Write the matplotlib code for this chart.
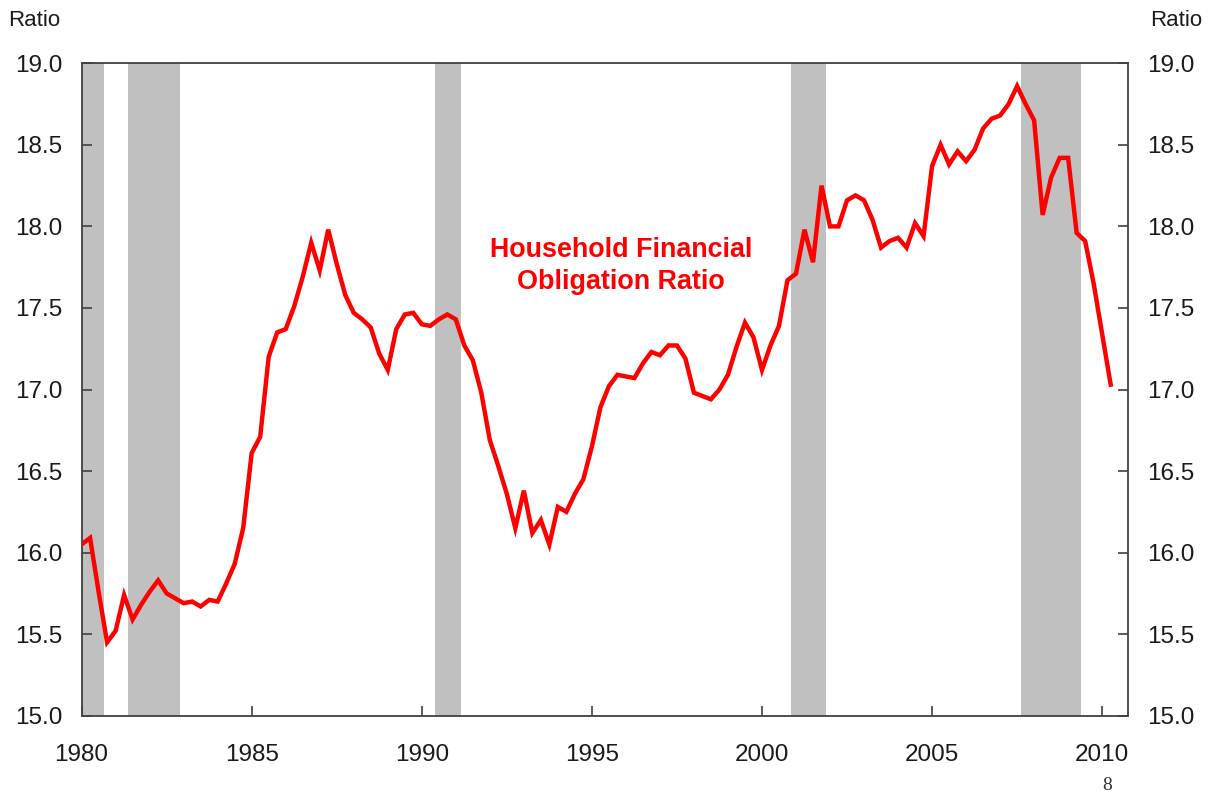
import matplotlib
matplotlib.use("Agg")
import matplotlib.pyplot as plt
import numpy as np

plt.rcParams['font.family'] = ['Liberation Sans', 'DejaVu Sans']

# Quarterly household financial obligation ratio, 1980Q1 - 2010Q2
start_year = 1980
ratio = [
    16.05, 16.09, 15.76, 15.45,   # 1980
    15.52, 15.74, 15.59, 15.68,   # 1981
    15.76, 15.83, 15.75, 15.72,   # 1982
    15.69, 15.70, 15.67, 15.71,   # 1983
    15.70, 15.81, 15.93, 16.15,   # 1984
    16.61, 16.71, 17.20, 17.35,   # 1985
    17.37, 17.51, 17.69, 17.90,   # 1986
    17.73, 17.98, 17.77, 17.58,   # 1987
    17.47, 17.43, 17.38, 17.22,   # 1988
    17.12, 17.37, 17.46, 17.47,   # 1989
    17.40, 17.39, 17.43, 17.46,   # 1990
    17.43, 17.27, 17.18, 16.98,   # 1991
    16.69, 16.53, 16.36, 16.15,   # 1992
    16.38, 16.12, 16.20, 16.05,   # 1993
    16.28, 16.25, 16.36, 16.45,   # 1994
    16.65, 16.89, 17.02, 17.09,   # 1995
    17.08, 17.07, 17.16, 17.23,   # 1996
    17.21, 17.27, 17.27, 17.19,   # 1997
    16.98, 16.96, 16.94, 17.00,   # 1998
    17.09, 17.26, 17.41, 17.32,   # 1999
    17.12, 17.27, 17.39, 17.67,   # 2000
    17.71, 17.98, 17.78, 18.25,   # 2001
    18.00, 18.00, 18.16, 18.19,   # 2002
    18.16, 18.04, 17.87, 17.91,   # 2003
    17.93, 17.87, 18.02, 17.94,   # 2004
    18.37, 18.50, 18.38, 18.46,   # 2005
    18.40, 18.47, 18.60, 18.66,   # 2006
    18.68, 18.75, 18.86, 18.75,   # 2007
    18.65, 18.07, 18.30, 18.42,   # 2008
    18.42, 17.96, 17.91, 17.65,   # 2009
    17.34, 17.03,                 # 2010
]

# Recession shading (start, end) in fractional years
recession_start = [1980.0, 1981.35, 1990.39, 2000.85, 2007.60]
recession_end = [1980.66, 1982.90, 1991.15, 2001.88, 2009.38]

x_ticks = [1980, 1985, 1990, 1995, 2000, 2005, 2010]
y_ticks = [15.0, 15.5, 16.0, 16.5, 17.0, 17.5, 18.0, 18.5, 19.0]

dates = start_year + np.arange(len(ratio)) / 4.0

fig = plt.figure(figsize=(12.14, 7.98), dpi=100)
ax = fig.add_axes([0.0672, 0.1031, 0.9289 - 0.0672, 0.9207 - 0.1031])

for s, e in zip(recession_start, recession_end):
    ax.axvspan(s, e, color='#C0C0C0', lw=0, zorder=1)

ax.plot(dates, ratio, color='#FF0000', lw=3.2, zorder=3, solid_joinstyle='miter')

ax.set_xlim(1980.0, 2010.75)
ax.set_ylim(15.0, 19.0)
ax.set_xticks(x_ticks)
ax.set_xticklabels([str(t) for t in x_ticks])
ax.set_yticks(y_ticks)
ax.set_yticklabels([f"{v:.1f}" for v in y_ticks])

for sp in ax.spines.values():
    sp.set_color('#404040')
    sp.set_linewidth(1.3)

ax.tick_params(axis='y', direction='in', length=7, width=1.2, color='#404040',
               left=True, right=True, labelleft=True, labelright=True,
               labelsize=17.5, pad=14, labelcolor='#1a1a1a')
ax.tick_params(axis='x', direction='in', length=7, width=1.2, color='#404040',
               top=False, labelsize=17.5, pad=20, labelcolor='#1a1a1a')

fig.text(8 / 1214, 1 - 20 / 798, "Ratio", fontsize=16, ha='left', va='center', color='#1a1a1a')
fig.text(1150 / 1214, 1 - 20 / 798, "Ratio", fontsize=16, ha='left', va='center', color='#1a1a1a')

ax.text(1995.86, 17.757, "Household Financial\nObligation Ratio", color='#FF0000',
        fontsize=19.4, fontweight='bold', ha='center', va='center', linespacing=1.28, zorder=4)

fig.text(1107 / 1214, 1 - 785 / 798, "8", fontsize=14, ha='center', va='center',
         family=['Liberation Serif', 'DejaVu Serif'], color='#333333')

fig.savefig("out.png", dpi=100, facecolor='white')
